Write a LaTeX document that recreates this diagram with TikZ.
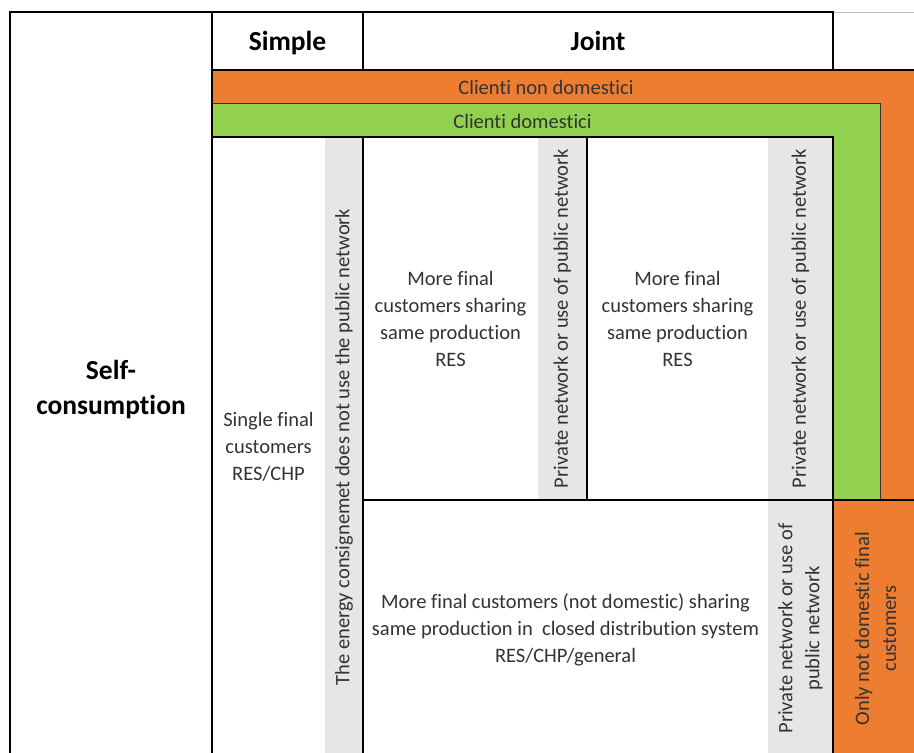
\documentclass[tikz,border=0pt]{standalone}
\usepackage{fontspec}
\setmainfont{Carlito}[Ligatures={NoCommon}]
\definecolor{orng}{HTML}{ED7D31}
\definecolor{grn}{HTML}{92D050}
\definecolor{strp}{HTML}{E6E6E6}
\definecolor{txt}{HTML}{333333}
\begin{document}
\begin{tikzpicture}[x=1pt,y=-1pt,
  base/.style={inner sep=0pt, outer sep=0pt, align=center, anchor=north west},
  bodyfont/.style={font=\fontsize{20.5}{27}\selectfont, text=txt},
  headfont/.style={font=\fontsize{27.5}{35}\selectfont\bfseries, text=black},
  cellbox/.style={base, bodyfont},
  stripbox/.style={base, fill=strp},
  rottext/.style={inner sep=0pt, outer sep=0pt, align=center, rotate=90, bodyfont},
  bandtext/.style={inner sep=0pt, outer sep=0pt, bodyfont},
  headtext/.style={inner sep=0pt, outer sep=0pt, anchor=base, headfont},
  border/.style={draw=black, line width=2.3pt},
  thinborder/.style={draw=black!80, line width=1pt}]
\useasboundingbox (0,0) rectangle (914,753);
% coloured bands
\fill[orng] (212,70) rectangle (914,753);
\fill[grn] (212,103) rectangle (880,500);
% header cells
\node[base, headfont, minimum width=202pt, minimum height=755pt] (selfc) at (10,12) {Self-\\consumption};
\node[base, minimum width=151pt, minimum height=58pt] (simple) at (212,12) {};
\node[base, minimum width=470pt, minimum height=58pt] (joint) at (363,12) {};
\node[headtext] (simplet) at (287.5,50) {Simple};
\node[headtext] (jointt) at (598,50) {Joint};
% band labels
\node[bandtext] (nondom) at (546,87.5) {Clienti non domestici};
\node[bandtext] (dom) at (522.5,121) {Clienti domestici};
% inner cells
\node[cellbox, fill=white, minimum width=113pt, minimum height=620pt] (single) at (212,137) {Single final\\customers\\RES/CHP};
\node[stripbox, minimum width=38pt, minimum height=620pt] (s1) at (325,137) {};
\node[rottext] (s1t) at (s1.center) {The energy consignemet does not use the public network};
\node[cellbox, fill=white, minimum width=175pt, minimum height=363pt] (more1) at (363,137) {More final\\customers sharing\\same production\\RES};
\node[stripbox, minimum width=49pt, minimum height=363pt] (p1) at (538,137) {};
\node[rottext] (p1t) at (p1.center) {Private network or use of public network};
\node[cellbox, fill=white, minimum width=181pt, minimum height=363pt] (more2) at (587,137) {More final\\customers sharing\\same production\\RES};
\node[stripbox, minimum width=65pt, minimum height=363pt] (p2) at (768,137) {};
\node[rottext] (p2t) at (p2.center) {Private network or use of public network};
\node[cellbox, fill=white, minimum width=405pt, minimum height=260pt] (closed) at (363,500) {More final customers (not domestic) sharing\\same production in\ \ closed distribution system\\RES/CHP/general};
\node[stripbox, minimum width=65pt, minimum height=257pt] (p3) at (768,500) {};
\node[rottext] (p3t) at (p3.center) {Private network or use of\\public network};
\node[base, fill=orng, minimum width=85pt, minimum height=257pt] (onlynd) at (833,500) {};
\node[rottext] (ondt) at (onlynd.center) {Only not domestic final\\customers};
% thin band borders
\draw[thinborder] (212,103) -- (880,103) -- (880,500);
\draw[black!25, line width=0.8pt] (joint.north east) -- (914,12);
% thick borders
\draw[black, line width=1.8pt] (selfc.south west) -- (selfc.north west) -- (selfc.north east);
\draw[border] (selfc.north east) -- (selfc.south east);
\draw[border] (simple.north west) rectangle (joint.south east);
\draw[border] (simple.north east) -- (simple.south east);
\draw[border] (joint.south east) -- (914,70);
\draw[border] (single.north west) -- (p2.north east) -- (onlynd.south west);
\draw[border] (more1.north west) -- (closed.south west);
\draw[border] (more2.north west) -- (more2.south west);
\draw[border] (closed.north west) -- (onlynd.north east);
\end{tikzpicture}
\end{document}
